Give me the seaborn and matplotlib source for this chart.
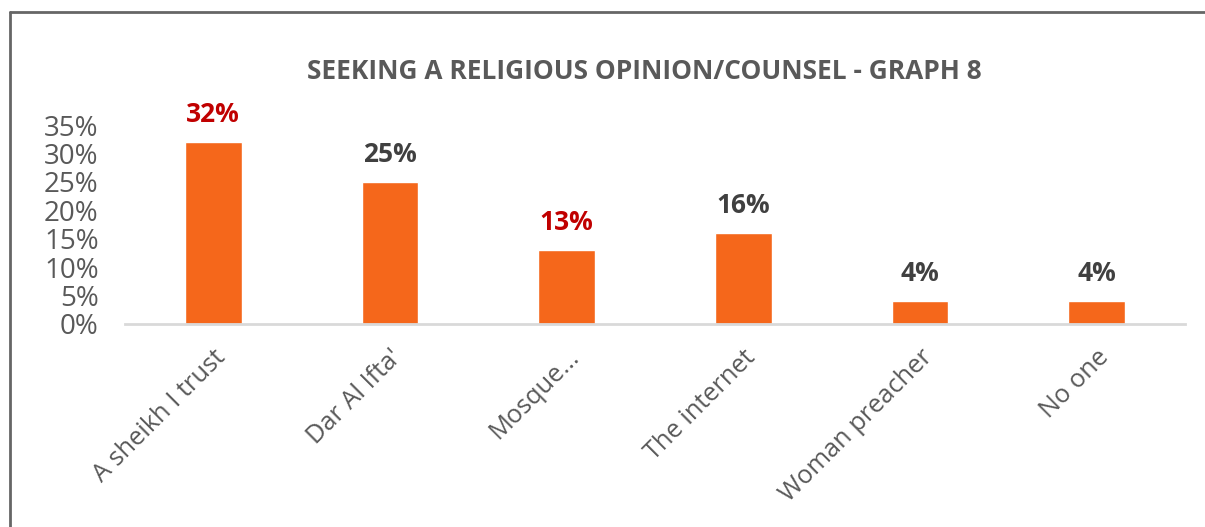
import matplotlib
matplotlib.use("Agg")
import matplotlib.pyplot as plt
from matplotlib.lines import Line2D
from matplotlib.ticker import PercentFormatter
import seaborn as sns
import pandas as pd

categories = ["A sheikh I trust", "Dar Al Ifta'", "Mosque...", "The internet",
              "Woman preacher", "No one"]
shares = [0.32, 0.25, 0.13, 0.16, 0.04, 0.04]
value_labels = ["32%", "25%", "13%", "16%", "4%", "4%"]
label_colors = ["#C00000", "#404040", "#C00000", "#404040", "#404040", "#404040"]
y_ticks = [0, 0.05, 0.10, 0.15, 0.20, 0.25, 0.30, 0.35]
title = "SEEKING A RELIGIOUS OPINION/COUNSEL - GRAPH 8"

sns.set_theme(style="white")
plt.rcParams["font.family"] = ["Open Sans", "DejaVu Sans"]

df = pd.DataFrame({"source": categories, "share": shares})

fig = plt.figure(figsize=(12.05, 5.27), dpi=100)
ax = fig.add_axes([0.1037, 0.3852, 0.8797, 0.3776])

sns.barplot(data=df, x="source", y="share", color="#F5671B", saturation=1,
            width=0.32, ax=ax)

ax.set_ylim(0, 0.35)
ax.set_xlim(-0.5, len(categories) - 0.5)
ax.set_yticks(y_ticks)
ax.yaxis.set_major_formatter(PercentFormatter(1.0, decimals=0))
ax.tick_params(axis="y", labelsize=20, labelcolor="#595959", length=0, pad=19)
ax.tick_params(axis="x", labelsize=18.3, labelcolor="#595959", length=0, pad=15)
for lab in ax.get_xticklabels():
    lab.set_rotation(45)
    lab.set_ha("right")
    lab.set_va("top")
    lab.set_rotation_mode("anchor")
ax.set_xlabel("")
ax.set_ylabel("")

for side in ["top", "right", "left"]:
    ax.spines[side].set_visible(False)
ax.spines["bottom"].set_color("#D9D9D9")
ax.spines["bottom"].set_linewidth(2)

texts = ax.bar_label(ax.containers[0], labels=value_labels, padding=10,
                     fontsize=19, fontweight="bold")
for t, c in zip(texts, label_colors):
    t.set_color(c)

fig.text(0.535, 0.865, title, ha="center", va="center", fontsize=18.9,
         fontweight="bold", color="#595959")

# chart frame: top and left edges
fig.add_artist(Line2D([0.0087, 1.0], [0.9763, 0.9763], transform=fig.transFigure,
                      color="#666666", linewidth=2))
fig.add_artist(Line2D([0.0087, 0.0087], [0.0, 0.9763], transform=fig.transFigure,
                      color="#666666", linewidth=2))

fig.savefig("out.png", dpi=100, facecolor="white")
